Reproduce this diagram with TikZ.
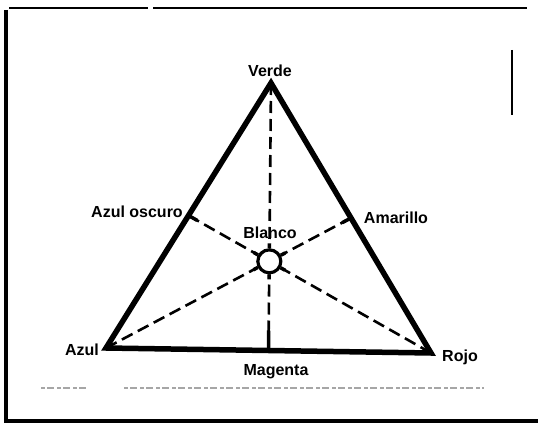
\documentclass[tikz,border=0pt]{standalone}
\usepackage{fontspec}
\setmainfont{Liberation Sans}
\usetikzlibrary{calc}

\begin{document}
\begin{tikzpicture}[
  x=1pt, y=1pt,
  side/.style={line width=5.5pt, line join=miter},
  median/.style={line width=2.6pt, dash pattern=on 12pt off 6pt},
  spoke/.style={line width=3.5pt},
  lbl/.style={font=\fontsize{16}{19}\selectfont\bfseries, inner sep=1pt},
  frame/.style={line width=2.5pt}
]
  \useasboundingbox (0,0) rectangle (538,424);

  % frame of the scan
  \draw[line width=3.5pt] (6,414) -- (6,3) -- (538,3);
  \draw[frame] (9,416) -- (148,416);
  \draw[frame] (153,416) -- (527,416);
  \draw[line width=1.8pt] (512,374) -- (512,309);
  \draw[gray!70, line width=1.8pt, dash pattern=on 4pt off 2pt on 7pt off 3pt] (41,36) -- (88,36);
  \draw[gray!70, line width=1.8pt, dash pattern=on 4pt off 2pt on 7pt off 3pt] (124,36) -- (484,36);

  % vertices and midpoints
  \coordinate (verde) at (271,341);
  \coordinate (azul) at (106,76);
  \coordinate (rojo) at (431,71);
  \coordinate (oscuro) at ($(verde)!0.5!(azul)$);
  \coordinate (amarillo) at ($(verde)!0.5!(rojo)$);
  \coordinate (magenta) at ($(azul)!0.5!(rojo)$);

  \node[draw, circle, line width=3.2pt, minimum size=23pt, inner sep=0pt, fill=white]
    (blanco) at (barycentric cs:verde=1,azul=1,rojo=1) {};

  % medians
  \foreach \p in {verde,azul,rojo,oscuro,amarillo,magenta}{
    \draw[median] (\p) -- (blanco);
    \draw[spoke] (blanco) -- ($(blanco)!18pt!(\p)$);
  }
  \draw[spoke] (oscuro) -- ($(oscuro)!10pt!(blanco)$);
  \draw[spoke] (amarillo) -- ($(amarillo)!10pt!(blanco)$);
  \draw[spoke] (magenta) -- ($(magenta)!20pt!(blanco)$);

  \draw[side] (verde) -- (azul) -- (rojo) -- cycle;

  % labels
  \node[lbl] (lverde) at (270,353) {Verde};
  \node[lbl] (loscuro) at (137,212) {Azul oscuro};
  \node[lbl] (lamarillo) at (396,206) {Amarillo};
  \node[lbl] (lblanco) at (270,191) {Blanco};
  \node[lbl] (lazul) at (82,74) {Azul};
  \node[lbl] (lrojo) at (460,67) {Rojo};
  \node[lbl] (lmagenta) at (276,52) {Magenta};
\end{tikzpicture}
\end{document}
